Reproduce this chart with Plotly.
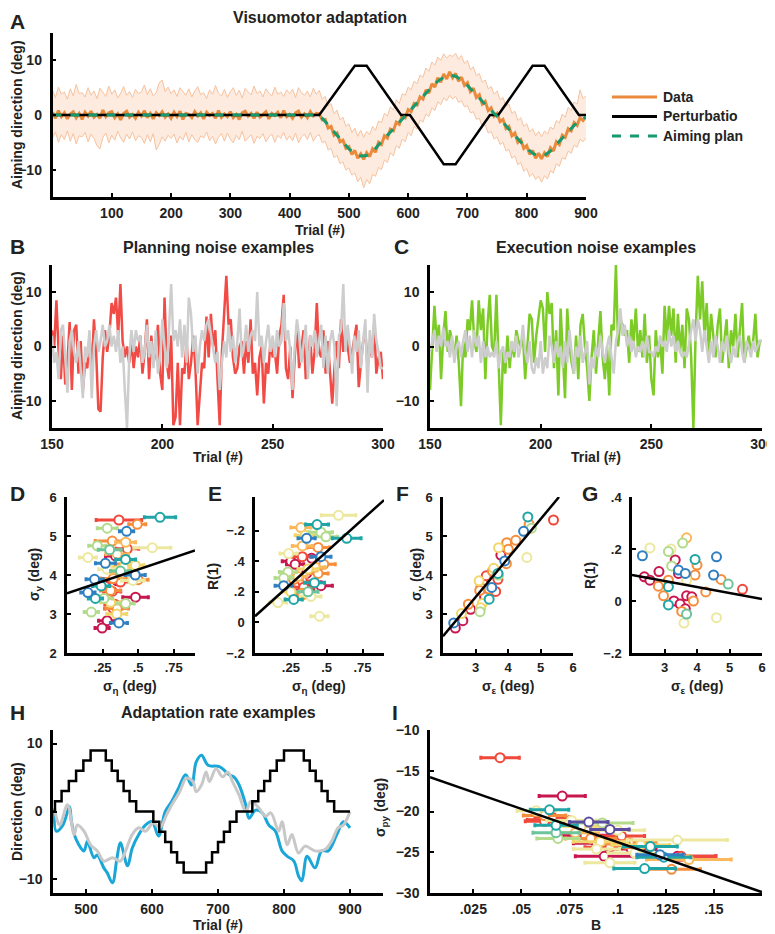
import plotly.graph_objects as go

# ======================= DATA =======================
# ---- Panel A: visuomotor adaptation ----
trials_5 = list(range(0, 901, 5))
trials_10 = list(range(0, 901, 10))

a_data = [0.5,-0.6,0.8,-0.3,0.4,-0.7,0.2,0.6,-0.5,0.3, -0.8,0.5,-0.2,0.7,-0.4,0.1,-0.6,0.9,-0.3,0.4,
          0.6,-0.5,0.2,-0.9,0.3,0.7,-0.4,0.1,-0.6,0.5, -0.2,0.8,-0.5,0.3,-0.7,0.4,-0.1,0.6,-0.4,0.2,
          -0.6,0.5,-0.3,0.7,-0.8,0.3,0.1,-0.5,0.6,-0.2, 0.4,-0.7,0.5,-0.1,0.3,-0.6,0.8,-0.4,0.2,-0.3,
          0.6,-0.5,0.1,-0.8,0.4,0.7,-0.2,0.3,-0.6,0.5, -0.4,0.2,0.6,-0.7,0.3,-0.1,0.5,-0.5,0.8,-0.3,
          0.1,-0.6,0.4,0.7,-0.4,0.2,-0.5,0.6,-0.2,0.3,
          0.2,-0.9,-0.8,-2.4,-2.1,-3.7,-3.3,-4.9,-4.6,-6.1, -5.8,-7.2,-6.5,-7.9,-7.1,-8.1,-6.9,-7.6,-6.2,-6.8,
          -5.0,-5.4,-3.8,-4.2,-2.6,-2.9,-1.3,-1.7,-0.1,-0.5, 1.0,0.6,2.1,1.8,3.3,2.9,4.6,4.0,5.7,5.1,
          6.8,6.0,7.5,6.6,7.9,6.8,7.6,6.2,6.9,5.4, 5.9,4.3,4.9,3.2,3.7,2.0,2.5,0.8,1.3,-0.2,
          0.3,-1.2,-0.8,-2.5,-2.1,-3.8,-3.3,-5.0,-4.5,-6.1, -5.6,-7.2,-6.5,-7.9,-7.0,-8.0,-6.9,-7.6,-6.0,-6.6,
          -4.9,-5.4,-3.7,-4.1,-2.5,-2.9,-1.4,-1.9,-0.5,-1.0, -0.3]

a_upper = [4.5,3.2,5.1,3.8,4.2,2.9,4.8,3.5,5.6,3.9, 4.1,3.3,5.0,3.6,4.4,3.0,4.9,4.2,3.4,5.3,
           3.8,4.6,3.1,4.0,5.2,3.6,4.3,3.2,4.7,3.9, 4.2,5.5,3.7,4.8,3.5,4.1,5.9,6.4,4.3,5.1,
           3.9,4.6,3.4,5.0,4.2,3.6,4.8,3.3,4.4,5.2, 3.7,4.1,3.0,4.6,3.8,5.4,4.0,3.5,4.7,3.2,
           4.3,5.0,3.6,4.5,3.1,4.9,4.2,3.7,5.3,3.9, 4.4,3.3,4.8,4.0,3.5,5.1,3.8,4.2,3.4,4.6,
           3.9,4.7,3.2,5.0,4.1,3.6,4.4,3.3,4.9,3.8,
           4.5,2.9,3.4,1.6,2.1,0.2,0.9,-0.9,-0.4,-2.1, -1.6,-3.2,-2.4,-3.9,-2.8,-4.1,-3.0,-3.6,-2.1,-2.8,
           -1.1,-1.4,0.3,-0.2,1.5,0.9,2.8,2.1,3.9,3.6, 5.1,4.6,6.2,5.7,7.3,6.9,8.6,8.0,9.7,9.1,
           10.6,10.0,11.2,10.4,11.0,10.7,11.3,10.2,10.9,9.4, 10.0,8.3,8.8,7.2,7.6,6.0,6.4,4.8,5.2,3.8,
           4.4,2.8,3.2,1.6,2.0,0.3,0.7,-1.0,-0.5,-2.1, -1.6,-3.1,-2.5,-3.8,-3.0,-4.0,-2.9,-3.5,-2.2,-2.6,
           -1.0,-1.5,0.2,-0.4,1.4,0.8,2.4,2.0,4.6,3.0, 3.5]

a_lower = [-4.2,-3.1,-5.0,-3.6,-4.5,-2.9,-4.8,-3.4,-5.3,-3.8, -4.0,-3.2,-4.9,-3.5,-4.3,-5.6,-6.2,-4.1,-3.3,-5.1,
           -3.7,-4.6,-3.0,-4.2,-5.0,-3.5,-4.4,-3.1,-4.7,-3.8, -4.1,-5.2,-3.6,-4.9,-3.4,-6.4,-5.4,-4.0,-4.8,-3.7,
           -4.3,-3.5,-5.1,-3.9,-4.6,-3.2,-4.9,-3.6,-4.5,-5.0, -3.8,-4.2,-3.1,-4.7,-3.9,-5.3,-4.1,-3.4,-4.8,-3.3,
           -4.4,-5.1,-3.7,-4.5,-3.0,-4.8,-4.2,-3.6,-5.2,-3.9, -4.3,-3.4,-4.9,-4.0,-3.5,-5.0,-3.7,-4.3,-3.2,-4.6,
           -3.8,-4.7,-3.3,-5.1,-4.0,-3.5,-4.5,-3.2,-4.8,-3.9,
           -3.6,-5.1,-4.8,-6.4,-6.1,-7.8,-7.4,-8.9,-8.6,-10.1, -9.7,-11.0,-10.6,-12.2,-11.4,-13.3,-11.8,-12.6,-10.9,-11.2,
           -9.6,-10.0,-8.2,-8.7,-6.9,-7.5,-5.6,-6.1,-4.4,-4.9, -3.2,-3.8,-2.1,-2.6,-0.9,-1.3,0.2,-0.3,1.3,0.8,
           2.4,1.9,3.1,2.6,3.6,2.9,3.4,2.3,2.6,1.5, 1.7,0.4,0.6,-0.8,-0.6,-2.1,-1.8,-3.3,-3.0,-4.4,
           -4.0,-5.4,-5.0,-6.6,-6.3,-7.9,-7.5,-9.1,-8.7,-10.3, -9.8,-11.3,-10.7,-11.8,-11.2,-12.3,-11.1,-11.7,-10.2,-10.6,
           -8.9,-9.4,-7.8,-8.1,-6.6,-7.0,-5.5,-5.9,-4.4,-4.9, -4.2]

a_plan = [0,0,0,0,0,0,0,0,0,0, 0,0,0,0,0,0,0,0,0,0, 0,0,0,0,0,0,0,0,0,0, 0,0,0,0,0,0,0,0,0,0, 0,0,0,0,0,
          0,-1.2,-2.5,-3.8,-5,-6.2,-7,-7.5,-7.4,-6.7, -5.5,-4.3,-3,-1.8,-0.6,0.5,1.6,2.8,4,5.1,
          6.2,6.9,7.3,7.1,6.4,5.4,4.3,3.1,1.9,0.8, -0.2,-1.3,-2.6,-3.8,-5,-6.1,-7,-7.5,-7.4,-6.6,
          -5.4,-4.2,-3,-1.9,-0.9,-0.4]

pert_trials = [0, 450, 510, 530, 588, 603, 660, 680, 738, 752, 810, 830, 888, 900]
pert_deg = [0, 0, 9, 9, 0, 0, -9, -9, 0, 0, 9, 9, 0, 0]

legend_labels = ["Data", "Perturbatio", "Aiming plan"]

# ---- Panels B, C: noise examples (trials 150-300) ----
trials_bc = list(range(150, 301))
b_red = [3,0,8.5,-1,-6,2,-7,-3,4.5,-8, 3,4,-5,1,-8,-3,-4,2,-5,5,
         -1,-11.5,-12,-2,3,-1,2,8,6,9, 2,11.5,1,-2,0,-3,1,-4,0,-2,
         2,-5,-1,5,-6,2,-3,-1,4,-5, -8,9,-3,-6,2,-14.5,-13,-3,-14.5,-4,
         -5,1,-6,-3,2,-4,-14.5,-8,-3,-4, 5.5,-2,6,0,3,-6,-14.5,-1,7,13,
         4,5,-2,-5,-4,0,1,-5,1,-3, 5,-5,-3,-9,-2,0,-10.5,-3,-5,1,
         -2,-1,-5,2,4,9.5,-4,-6,0,-9.5, -2,4,-4,-1,3,-6,-3,2,-5,-1,
         8,-1,-2,3,-5,1,-4,-10.5,-4,1, -4,5,-1,3,0,-3,-1,2,4,-7.5,
         -3,1,3,-4,0,-2,4,-5,-2,-1, -6]
b_grey = [2,-3,-1,-6,3,4,-2,-8.5,1,3, -1,-3,1,-4,-9.5,0,-2,3,-9.5,0,
          3,-1,1,4,0,1,4,0,2,-1, 3,-3,0,-8,-15,-2,3,-1,3,1,
          2,-3,-1,4,-2,1,-4,3,-5,-2, 5,0,-4,3,11.5,1,3,0,5,-2,
          4,-3,9,6,-1,2,-5,0,3,1, 4,5,2,0,-3,-1,-8,-3,1,-2,
          4,-1,2,-3,1,7,-2,0,4,-1, 2,3,1,10,0,2,-3,1,4,-1,
          2,-2,3,0,1,8,1,3,-1,-8, 0,5,2,-3,1,4,-6,2,0,3,
          -2,1,4,-4,2,-5,1,3,0,-11, 2,3,11.5,-1,4,0,-5,2,-1,3,
          -4,1,5,-8.5,3,-2,6,1,-1,-4, -4]
c_green = [-8,0,7.5,1,4,-6,2,6.5,-1,3, 1,-2,2,-3,-11,1,-2,5,3,8.5,
           1,-1,8.5,3,7,-6,4,9.5,0,-1, 9.5,-3,-14.5,-1,-5,2,-4,1,-2,3,
           1,0,2,-6,1,6,5,-3,2,5, 8.5,7,-1,10,6,8,-4,3,-9,7,
           -2,-9.5,7,0,-3,-5,2,-6,4,6, 0,-4,-10,-2,3,-5,1,6.5,-2,-6,
           0,-9,4,3,15,0,5,4,2,3, -3,5,1,7,-1,3,-2,6,-3,2,
           -6,-9,3,-2,1,-5,7.5,1,7.5,2, 7,-3,6,-1,4,-4,7,5,-2,-15,
           2,13,5,12,2,8,-1,6,2,-2, 4,7,-3,1,5,-4,3,0,6,-2,
           3,8,-3,0,2,-1,1,6,-2,1, 1]
c_grey = [-1,1,3,-1,2,0,3.5,0,1,-2, 2,-3,0,1,-2,1,3,-1,2,-2,
          3,0,2,-3,1,-2,0,-2,-1,-2, 1,-4,-1,0,-3,-1,-2,1,-1,2,
          -2,0,4,-1,-3,1,-4,-5,-2,-4, 1,-5,-2,-4,2,0,-3,1,-2,0,
          -4,1,-3,3,-1,-5,0,-2,2,-3, -1,1,-7,-2,-4,0,-2,2,-1,-3,
          0,2,-2,-5,1,3,7,2,4,0, 2,-1,1,-2,0,-1,1,-2,2,-1,
          -1,-2,0,-1,2,0,1,-1,3,0, 2,-1,1,-1,-2,-1,-2,1,3,5,
          1,5,3,-1,3,0,-3,1,-2,2, 0,-3,1,-1,2,-1,-3,0,-2,1,
          2,-1,-3,1,0,-2,1,-1,0,1, 1]

# ---- Panel D: sigma_eta vs sigma_y ----
d_sig_eta = [0.365,0.654,0.494,0.283,0.419,0.318,0.600,0.213,0.412,0.424,0.147,0.353,0.341,0.412,0.270,
             0.419,0.282,0.400,0.480,0.194,0.353,0.325,0.463,0.376,0.240,0.147,0.200,0.306,0.318,0.482,
             0.260,0.306,0.336,0.412,0.171,0.353,0.325,0.350,0.282,0.365,0.247,0.376,0.480,0.500,0.390,0.300]
d_sig_y = [5.41,5.48,5.30,5.20,5.12,4.87,4.70,4.75,4.84,4.67,4.45,4.54,4.49,4.40,4.30,
           4.28,4.15,4.20,4.00,3.89,3.85,3.91,3.86,3.82,3.72,3.55,3.40,3.60,3.58,3.43,
           3.40,3.30,3.25,3.27,3.05,3.14,3.14,3.00,2.83,2.77,2.64,4.10,4.25,3.88,4.05,4.65]
d_err = [0.16,0.11,0.06,0.07,0.05,0.12,0.13,0.06,0.07,0.08,0.06,0.08,0.07,0.07,0.07,
         0.08,0.06,0.08,0.07,0.06,0.07,0.09,0.08,0.08,0.06,0.05,0.05,0.07,0.06,0.09,
         0.06,0.07,0.07,0.06,0.05,0.08,0.06,0.07,0.06,0.06,0.05,0.07,0.06,0.07,0.08,0.08]
d_col = [1,8,2,6,9,2,5,6,3,1,5,3,0,8,9, 2,5,4,9,9,0,2,5,1,8,9,8,2,1,0, 6,4,1,6,6,2,1,4,0,9,0,7,4,2,3,7]
fit_d_x = [0.0, 0.9]
fit_d_y = [3.53, 4.63]

# ---- Panel E: sigma_eta vs R(1) ----
e_sig_eta = [0.583,0.433,0.320,0.460,0.350,0.360,0.640,0.495,0.330,0.440, 0.234,0.460,0.330,0.395,0.250,0.280,0.480,0.370,0.230,0.440,
             0.360,0.200,0.270,0.330,0.200,0.415,0.460,0.340,0.280,0.330, 0.250,0.270,0.370,0.390,0.160,0.450,0.330,0.350,0.300,0.420]
e_r1 = [0.70,0.64,0.62,0.59,0.57,0.55,0.55,0.56,0.50,0.49, 0.45,0.43,0.43,0.42,0.40,0.38,0.38,0.35,0.33,0.32,
        0.32,0.29,0.28,0.27,0.24,0.26,0.24,0.23,0.24,0.19, 0.20,0.15,0.20,0.17,0.13,0.04,0.18,0.21,0.30,0.36]
e_err = [0.12,0.08,0.07,0.08,0.07,0.06,0.10,0.08,0.07,0.08, 0.06,0.07,0.07,0.08,0.06,0.06,0.08,0.07,0.06,0.07,
         0.07,0.06,0.06,0.07,0.06,0.07,0.08,0.07,0.06,0.07, 0.06,0.06,0.07,0.07,0.06,0.06,0.06,0.06,0.06,0.07]
e_col = [5,8,3,6,4,9,8,6,3,2, 5,9,1,0,0,0,2,4,6,2, 0,6,2,1,9,8,0,1,0,2, 4,8,7,5,5,5,2,0,3,3]
fit_e_x = [0.0, 0.9]
fit_e_y = [0.04, 0.80]

# ---- Panel F: sigma_eps vs sigma_y ----
f_sig_eps = [4.61,5.40,4.65,4.72,4.48,3.71,3.96,4.24,4.58,4.01, 3.78,3.90,3.95,3.56,3.52,3.69,3.33,3.50,3.69,3.11,
             3.16,3.50,3.62,3.42,3.28,3.13,3.21,2.78,2.85,3.14, 2.57,2.61,2.33,2.38,3.16,3.71,3.42]
f_sig_y = [5.49,5.41,5.30,5.20,5.12,4.70,4.83,4.89,4.45,4.66, 4.51,4.36,4.29,4.17,4.10,4.04,3.98,3.85,3.89,3.85,
           3.68,3.68,3.58,3.38,3.44,3.60,3.27,3.25,3.12,3.06, 3.01,2.83,2.77,2.64,3.16,4.00,3.64]
f_col = [8,1,2,6,9,4,2,2,5,2, 0,9,2,4,2,8,1,0,1,4, 2,9,1,8,0,2,4,2,0,6, 4,0,9,0,4,6,2]
fit_f_x = [2.0, 5.57]
fit_f_y = [2.43, 6.0]

# ---- Panel G: sigma_eps vs R(1) ----
g_sig_eps = [2.32,2.55,3.68,3.56,3.12,3.20,3.33,3.94,4.60,4.00, 3.43,2.83,3.43,3.64,3.94,4.51,2.38,4.74,4.96,5.40,
             2.55,2.81,3.12,3.68,3.12,4.27,3.68,3.84,2.97,3.29, 3.89,3.12,3.48,3.64,3.68,4.60,3.60,3.53,3.22]
g_r1 = [0.174,0.204,0.243,0.223,0.190,0.200,0.158,0.160,0.170,0.138, 0.119,0.113,0.106,0.106,0.100,0.100,0.093,0.083,0.065,0.045,
        0.080,0.057,0.080,0.080,0.055,0.035,0.020,0.016,0.020,0.000, 0.000,-0.015,-0.012,-0.030,-0.050,-0.064,-0.085,-0.040,0.135]
g_col = [9,5,3,6,6,5,0,8,9,2, 9,0,0,9,2,9,0,2,7,1, 0,2,2,5,8,2,0,0,2,0, 2,8,0,0,7,5,5,2,6]
fit_g_x = [2.0, 6.0]
fit_g_y = [0.10, 0.008]

# ---- Panel H: adaptation rate examples ----
h_pert_trials = [450,453,463,474,485,496,507,530,539,548,557,566,576,602,611,620,629,638,648,
                 682,691,700,709,718,728,752,761,770,779,789,800,830,839,848,857,866,876,900]
h_pert_deg = [0,1.5,3,4.5,6,7.5,9,7.5,6,4.5,3,1.5,0,-1.5,-3,-4.5,-6,-7.5,-9,
              -7.5,-6,-4.5,-3,-1.5,0,1.5,3,4.5,6,7.5,9,7.5,6,4.5,3,1.5,0,0]
h_blue_trials = [452,455,465,475,478,485,497,502,512,517,527,532,540,547,552,563,570,580,590,600,
                 610,620,630,640,651,660,667,675,685,702,717,725,732,742,747,757,767,777,787,797,
                 805,815,822,827,835,847,857,867,880,890,900]
h_blue_deg = [0.5,-2.9,-2.0,0.7,-1.5,-4.1,-5.8,-4.4,-6.8,-6.4,-8.3,-9.0,-10.5,-6.8,-4.6,-8.0,-5.4,-3.4,-2.0,-1.5,
              -3.6,0.0,1.5,3.4,5.4,3.9,7.3,8.3,6.8,6.6,5.4,5.0,3.9,1.0,-1.0,0.2,-0.2,-2.0,-2.9,-5.8,
              -6.6,-7.3,-9.5,-10.2,-6.6,-8.3,-5.8,-5.8,-3.4,-1.5,-2.4]
h_grey_trials = [452,460,472,482,487,497,507,517,527,540,552,560,570,580,590,602,612,622,630,642,
                 652,662,667,675,682,687,697,707,715,722,732,742,750,762,772,780,792,797,805,812,
                 822,832,847,862,872,882,890,900]
h_grey_deg = [0.5,-2.0,1.0,-3.4,-2.0,-2.9,-4.9,-5.8,-7.3,-6.8,-7.3,-5.8,-3.4,-2.4,-2.9,-1.7,-2.4,-0.5,1.0,2.9,
              4.9,4.4,2.9,3.9,5.8,4.4,6.3,5.1,5.8,4.4,2.4,0.0,1.5,0.5,-0.7,-0.2,-2.9,-1.5,-4.9,-3.4,
              -6.1,-5.1,-5.8,-5.6,-4.4,-2.4,-2.0,0.0]

# ---- Panel I: adaptation rate B vs sigma_py ----
i_B = [0.0389,0.0712,0.0577,0.0646,0.062,0.063,0.066,0.068,0.068,0.069, 0.076,0.085,0.092,0.081,0.096,0.083,0.100,0.102,0.086,0.089,
       0.091,0.096,0.106,0.104,0.107,0.112,0.089,0.109,0.122,0.124, 0.131,0.133,0.137,0.131,0.093,0.096,0.114,0.128,0.062,0.117, 0.078]
i_sig_py = [-13.4,-18.1,-19.9,-19.8,-20.5,-21.0,-20.7,-21.7,-22.6,-23.3, -21.1,-21.3,-21.4,-21.8,-22.2,-22.9,-22.3,-23.0,-23.3,-23.9,
            -23.7,-24.4,-23.8,-24.0,-24.6,-24.1,-24.6,-25.1,-25.3,-25.6, -25.5,-25.5,-25.9,-23.5,-25.5,-26.3,-27.0,-27.1,-21.2,-24.3, -22.6]
i_err = [0.010,0.012,0.010,0.010,0.011,0.010,0.009,0.011,0.012,0.011, 0.013,0.010,0.016,0.012,0.010,0.012,0.014,0.012,0.013,0.012,
         0.014,0.013,0.014,0.012,0.013,0.015,0.012,0.014,0.012,0.014, 0.020,0.018,0.022,0.026,0.015,0.013,0.016,0.015,0.010,0.014, 0.012]
i_col = [1,0,5,8,2,1,1,8,7,6, 5,10,6,4,10,0,5,1,2,0, 4,1,2,2,0,4,5,5,9,8, 0,1,3,5,0,5,8,2,1,8, 3]
fit_i_x = [0.0025, 0.175]
fit_i_y = [-15.8, -29.9]

for arr_a, arr_b in [(a_data, trials_5), (a_upper, trials_5), (a_lower, trials_5), (a_plan, trials_10),
                     (b_red, trials_bc), (b_grey, trials_bc), (c_green, trials_bc), (c_grey, trials_bc)]:
    assert len(arr_a) == len(arr_b), (len(arr_a), len(arr_b))
for grp in [(d_sig_eta, d_sig_y, d_err, d_col), (e_sig_eta, e_r1, e_err, e_col), (f_sig_eps, f_sig_y, f_col),
            (g_sig_eps, g_r1, g_col), (i_B, i_sig_py, i_err, i_col), (h_pert_trials, h_pert_deg),
            (h_blue_trials, h_blue_deg), (h_grey_trials, h_grey_deg)]:
    assert len(set(len(g) for g in grp)) == 1, [len(g) for g in grp]

# ======================= STYLE / LAYOUT =======================
PAGE_W, PAGE_H = 775, 934
OFF = 8                      # page body margin in the browser
W, H = PAGE_W - OFF, PAGE_H - OFF
FONT = "Liberation Sans, Arial, sans-serif"
TXT = "#222222"
PALETTE = ["#c8174f", "#f0483a", "#f68d3c", "#fbb85a", "#f2d66b", "#ece89e",
           "#b2db8c", "#6cc49a", "#1fa5a6", "#2f7fc1", "#5b4ea0"]
A_COLORS = {"data": "#ea8a3c", "pert": "black", "plan": "#179a6e"}


def fx(px):
    return (px - OFF) / W


def fy(py):
    return 1 - (py - OFF) / H


# axis boxes in screen pixels: left, right, top, bottom
BOX = {
    "A": (52.5, 586, 33, 197),
    "B": (52, 383, 265, 428),
    "C": (430, 762, 265, 428),
    "D": (67, 195, 497, 653),
    "E": (255, 384, 497, 653),
    "F": (443, 573, 497, 653),
    "G": (632, 762, 497, 653),
    "H": (53, 383, 730, 893),
    "I": (430, 762, 730, 893),
}
ORDER = list("ABCDEFGHI")
SUF = {p: ("" if i == 0 else str(i + 1)) for i, p in enumerate(ORDER)}

fig = go.Figure()


def xr(p):
    return "x" + SUF[p]


def yr(p):
    return "y" + SUF[p]


def add_line(p, x, y, color, width, dash="solid", shape="linear", **kw):
    fig.add_trace(go.Scatter(x=x, y=y, mode="lines", xaxis=xr(p), yaxis=yr(p),
                             line=dict(color=color, width=width, dash=dash, shape=shape),
                             showlegend=False, hoverinfo="skip", **kw))


def add_points(p, xs, ys, cols, errs=None):
    for ci in sorted(set(cols)):
        idx = [k for k, c in enumerate(cols) if c == ci]
        tr = dict(x=[xs[k] for k in idx], y=[ys[k] for k in idx], mode="markers",
                  xaxis=xr(p), yaxis=yr(p), showlegend=False, hoverinfo="skip",
                  marker=dict(symbol="circle", size=9, color="white",
                              line=dict(color=PALETTE[ci], width=2)))
        if errs is not None:
            tr["error_x"] = dict(type="data", array=[errs[k] for k in idx], symmetric=True,
                                 color=PALETTE[ci], thickness=3, width=2)
        fig.add_trace(go.Scatter(**tr))


# ---- Panel A ----
add_line("A", trials_5, a_upper, "#f6c29e", 1)
add_line("A", trials_5, a_lower, "#f6c29e", 1, fill="tonexty", fillcolor="rgba(248,190,150,0.30)")
add_line("A", trials_5, a_data, A_COLORS["data"], 3)
add_line("A", pert_trials, pert_deg, A_COLORS["pert"], 2.5)
add_line("A", trials_10, a_plan, A_COLORS["plan"], 3, dash="dash")

# ---- Panel B / C ----
add_line("B", trials_bc, b_red, "#f24a44", 2.5)
add_line("B", trials_bc, b_grey, "#cdcdcd", 2.5)
add_line("C", trials_bc, c_green, "#7ccb26", 2.5)
add_line("C", trials_bc, c_grey, "#cdcdcd", 2.5)

# ---- Panels D - G ----
add_points("D", d_sig_eta, d_sig_y, d_col, d_err)
add_line("D", fit_d_x, fit_d_y, "black", 2.5)
add_points("E", e_sig_eta, e_r1, e_col, e_err)
add_line("E", fit_e_x, fit_e_y, "black", 2.5)
add_points("F", f_sig_eps, f_sig_y, f_col)
add_line("F", fit_f_x, fit_f_y, "black", 2.5)
add_points("G", g_sig_eps, g_r1, g_col)
add_line("G", fit_g_x, fit_g_y, "black", 2.5)

# ---- Panel H ----
add_line("H", h_blue_trials, h_blue_deg, "#1aa7d8", 3, shape="spline")
add_line("H", h_grey_trials, h_grey_deg, "#c8c8c8", 3, shape="spline")
add_line("H", h_pert_trials, h_pert_deg, "black", 2.5, shape="hv")

# ---- Panel I ----
add_points("I", i_B, i_sig_py, i_col, i_err)
add_line("I", fit_i_x, fit_i_y, "black", 2.5)


# ---- axes ----
def axis(size=14, standoff=0, **kw):
    d = dict(showline=True, linecolor="black", linewidth=2.5, mirror=False,
             ticks="inside", ticklen=4, tickwidth=2, tickcolor="black",
             showgrid=False, zeroline=False, fixedrange=True, automargin=False,
             ticklabelstandoff=standoff,
             tickfont=dict(family=FONT, size=size, color=TXT, weight="bold"))
    d.update(kw)
    return d


AX = {
    "A": (dict(range=[0, 900], tickvals=[100, 200, 300, 400, 500, 600, 700, 800, 900]),
          dict(range=[-15, 15], tickvals=[-10, 0, 10]), 14),
    "B": (dict(range=[150, 300], tickvals=[150, 200, 250, 300]),
          dict(range=[-15, 15], tickvals=[-10, 0, 10]), 14),
    "C": (dict(range=[150, 300], tickvals=[150, 200, 250, 300]),
          dict(range=[-15, 15], tickvals=[-10, 0, 10]), 14),
    "D": (dict(range=[0, 0.9], tickvals=[0.25, 0.5, 0.75], ticktext=[".25", ".5", ".75"]),
          dict(range=[2, 6], tickvals=[2, 3, 4, 5, 6]), 13),
    "E": (dict(range=[0, 0.9], tickvals=[0.25, 0.5, 0.75], ticktext=[".25", ".5", ".75"]),
          dict(range=[-0.2, 0.82], tickvals=[-0.2, 0, 0.2, 0.4, 0.6],
               ticktext=["\u2212.2", "0", ".2", ".4", "\u2212.2"]), 13),
    "F": (dict(range=[2, 6], tickvals=[3, 4, 5, 6]),
          dict(range=[2, 6], tickvals=[2, 3, 4, 5, 6]), 13),
    "G": (dict(range=[2, 6], tickvals=[3, 4, 5, 6]),
          dict(range=[-0.2, 0.4], tickvals=[-0.2, 0, 0.2, 0.4],
               ticktext=["\u2212.2", "0", ".2", ".4"]), 13),
    "H": (dict(range=[450, 950], tickvals=[500, 600, 700, 800, 900]),
          dict(range=[-12, 12], tickvals=[-10, 0, 10]), 14),
    "I": (dict(range=[0.0025, 0.175], tickvals=[0.025, 0.05, 0.075, 0.1, 0.125, 0.15],
               ticktext=[".025", ".05", ".075", ".1", ".125", ".15"]),
          dict(range=[-30, -10], tickvals=[-30, -25, -20, -15, -10]), 14),
}

layout_axes = {}
for p in ORDER:
    l, r, t, b = BOX[p]
    xk, yk, fs = AX[p]
    layout_axes["xaxis" + SUF[p]] = axis(size=fs, standoff=1, domain=[fx(l), fx(r)], anchor=yr(p), **xk)
    layout_axes["yaxis" + SUF[p]] = axis(size=fs, standoff=5, domain=[fy(b), fy(t)], anchor=xr(p), **yk)

# ---- annotations ----
ANN = []


def ann(text, x, y, size=14, angle=0, xanchor="center"):
    ANN.append(dict(text=text, x=fx(x), y=fy(y), xref="paper", yref="paper",
                    xanchor=xanchor, yanchor="middle", showarrow=False, textangle=angle,
                    font=dict(family=FONT, size=size, color=TXT, weight="bold")))


# panel letters
for letter, (x, y) in {"A": (17, 21), "B": (17, 246), "C": (401, 246), "D": (17, 493), "E": (215, 493),
                       "F": (402, 493), "G": (590, 493), "H": (17, 712), "I": (395, 712)}.items():
    ann(letter, x, y, size=21)

# titles
ann("Visuomotor adaptation", 320, 18, size=16)
ann("Planning noise examples", 218, 247, size=16)
ann("Execution noise examples", 596, 247, size=16)
ann("Adaptation rate examples", 218, 712, size=16)

# axis titles
ann("Trial (#)", 320, 230)
ann("Aiming direction (deg)", 17, 115, angle=-90)
ann("Trial (#)", 218, 457)
ann("Aiming direction (deg)", 17, 346, angle=-90)
ann("Trial (#)", 596, 457)
ann("\u03c3<sub>\u03b7</sub> (deg)", 130, 687)
ann("\u03c3<sub>\u03b7</sub> (deg)", 319, 687)
ann("\u03c3<sub>\u03b5</sub> (deg)", 508, 687)
ann("\u03c3<sub>\u03b5</sub> (deg)", 697, 687)
ann("\u03c3<sub>y</sub> (deg)", 35, 575, angle=-90)
ann("R(1)", 213, 576, angle=-90)
ann("\u03c3<sub>y</sub> (deg)", 417, 575, angle=-90)
ann("R(1)", 590, 576, angle=-90)
ann("Direction (deg)", 17, 812, angle=-90)
ann("Trial (#)", 218, 925)
ann("B", 596, 925)
ann("\u03c3<sub>py</sub> (deg)", 381, 808, angle=-90)

# legend of panel A (drawn manually for exact placement)
SHAPES = []
leg_styles = [(A_COLORS["data"], "solid"), (A_COLORS["pert"], "solid"), (A_COLORS["plan"], "dash")]
for k, (lab, (col, dsh)) in enumerate(zip(legend_labels, leg_styles)):
    yy = 97 + k * 19.5
    SHAPES.append(dict(type="line", xref="paper", yref="paper", x0=fx(612), x1=fx(657),
                       y0=fy(yy), y1=fy(yy), line=dict(color=col, width=3, dash=dsh)))
    ann(lab, 661, yy, size=14, xanchor="left")

fig.update_layout(
    width=W, height=H,
    margin=dict(l=0, r=0, t=0, b=0, pad=0, autoexpand=False),
    paper_bgcolor="white", plot_bgcolor="white",
    font=dict(family=FONT, color=TXT),
    showlegend=False,
    annotations=ANN,
    shapes=SHAPES,
    **layout_axes,
)

fig.write_html("out.html")
